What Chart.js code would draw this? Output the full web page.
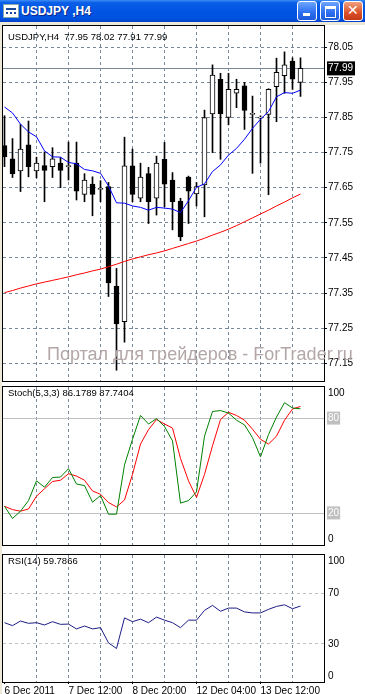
<!DOCTYPE html>
<html>
<head>
<meta charset="utf-8">
<script src="https://cdn.jsdelivr.net/npm/chart.js@4.4.0/dist/chart.umd.min.js"></script>
<style>
    body { margin: 0; width: 365px; height: 694px; overflow: hidden; position: relative; background: #fff; font-family: "Liberation Sans", Arial, sans-serif; }
    canvas { position: absolute; left: 0; }
    .barra { position: absolute; left: 0; top: 0; width: 365px; height: 22px;
        background: linear-gradient(to bottom, #3d8cf5 0%, #0a5fe8 12%, #0054e3 50%, #0052de 85%, #0040c8 100%); }
    .titulo { position: absolute; left: 21px; top: 4px; color: #fff; font: bold 12px "Liberation Sans", Arial, sans-serif; text-shadow: 1px 1px 0 #0a2a8a; }
    .icono { position: absolute; left: 3px; top: 4px; width: 14px; height: 12px; background: #fff; border: 1px solid #8aa; }
    .icono::after { content: ""; position: absolute; left: 2px; top: 3px; width: 10px; height: 6px; border-bottom: 2px dotted #1a4a9a; border-top: 2px solid #1a4a9a; box-sizing: border-box; }
    .boton { position: absolute; top: 1px; width: 18px; height: 18px; border: 1px solid #fff; border-radius: 3px;
        background: linear-gradient(to bottom, #6ea5ff, #2b6ef0 60%, #1d5ad8); }
    .boton.cerrar { background: linear-gradient(to bottom, #f0a080, #d9502a 60%, #c33a14); }
    .min::after { content: ""; position: absolute; left: 5px; top: 11px; width: 7px; height: 3px; background: #fff; }
    .max::after { content: ""; position: absolute; left: 4px; top: 4px; width: 9px; height: 8px; border: 1px solid #fff; border-top-width: 3px; box-sizing: content-box; }
    .cerrar::after { content: "\2715"; position: absolute; left: 3px; top: 0px; color: #fff; font: bold 14px "DejaVu Sans", sans-serif; }
    .franja { position: absolute; left: 0; top: 22px; width: 365px; height: 3px; background: #ece9d8; }
    .borde { position: absolute; left: 0; top: 22px; width: 2px; height: 672px; background: #ece9d8; }
    .cabecera { position: absolute; left: 8px; font-size: 9.5px; line-height: 12px; color: #000; white-space: pre; }
    .marca { position: absolute; left: 47px; top: 344px; font-size: 18px; color: #b3a7a7; white-space: nowrap; }
</style>
</head>
<body>
<div class="barra"></div>
<div class="icono"></div>
<div class="titulo">USDJPY ,H4</div>
<div class="boton min" style="left:297px"></div>
<div class="boton max" style="left:320px"></div>
<div class="boton cerrar" style="left:343px"></div>
<div class="franja"></div>
<div class="borde"></div>

<canvas id="graficoPrecio" width="365" height="375" style="top:16px"></canvas>
<canvas id="graficoStoch" width="365" height="184" style="top:374px"></canvas>
<canvas id="graficoRsi" width="365" height="156" style="top:542px"></canvas>

<div class="cabecera" style="top:31px">USDJPY,H4  77.95 78.02 77.91 77.99</div>
<div class="cabecera" style="top:387px">Stoch(5,3,3) 86.1789 87.7404</div>
<div class="cabecera" style="top:555px">RSI(14) 59.7866</div>
<div class="marca">Портал для трейдеров - ForTrader.ru</div>

<script>
// Velas H4 de USDJPY (una por cada 4 horas)
const fechas = [
    '6 Dec 04:00', '6 Dec 08:00', '6 Dec 12:00', '6 Dec 16:00', '6 Dec 20:00',
    '7 Dec 00:00', '7 Dec 04:00', '7 Dec 08:00', '7 Dec 12:00', '7 Dec 16:00', '7 Dec 20:00',
    '8 Dec 00:00', '8 Dec 04:00', '8 Dec 08:00', '8 Dec 12:00', '8 Dec 16:00', '8 Dec 20:00',
    '9 Dec 00:00', '9 Dec 04:00', '9 Dec 08:00', '9 Dec 12:00', '9 Dec 16:00', '9 Dec 20:00',
    '12 Dec 00:00', '12 Dec 04:00', '12 Dec 08:00', '12 Dec 12:00', '12 Dec 16:00', '12 Dec 20:00',
    '13 Dec 00:00', '13 Dec 04:00', '13 Dec 08:00', '13 Dec 12:00', '13 Dec 16:00', '13 Dec 20:00',
    '14 Dec 00:00', '14 Dec 04:00', '14 Dec 08:00'
];
const apertura = [77.770, 77.732, 77.698, 77.772, 77.698, 77.713, 77.710, 77.720, 77.710, 77.720,
    77.631, 77.660, 77.645, 77.653, 77.370, 77.268, 77.712, 77.620, 77.690, 77.620,
    77.731, 77.672, 77.612, 77.680, 77.632, 77.658, 77.860, 77.959, 77.850, 77.919,
    77.940, 77.859, 77.848, 77.859, 77.938, 77.969, 78.011, 77.950];
const maximo = [77.855, 77.790, 77.830, 77.840, 77.737, 77.752, 77.764, 77.736, 77.780, 77.780,
    77.690, 77.681, 77.670, 77.665, 77.420, 77.794, 77.760, 77.720, 77.708, 77.740,
    77.779, 77.693, 77.620, 77.683, 77.665, 77.871, 78.000, 77.976, 77.976, 77.959,
    77.950, 77.911, 77.855, 77.932, 78.019, 78.037, 78.020, 78.020];
const minimo = [77.710, 77.679, 77.639, 77.681, 77.678, 77.610, 77.679, 77.650, 77.672, 77.615,
    77.610, 77.570, 77.610, 77.340, 77.130, 77.210, 77.610, 77.610, 77.548, 77.572,
    77.596, 77.530, 77.499, 77.548, 77.598, 77.567, 77.750, 77.731, 77.829, 77.878,
    77.816, 77.691, 77.720, 77.630, 77.838, 77.919, 77.930, 77.910];
const cierre = [77.738, 77.689, 77.760, 77.710, 77.720, 77.699, 77.732, 77.699, 77.713, 77.640,
    77.672, 77.631, 77.648, 77.379, 77.262, 77.712, 77.631, 77.680, 77.610, 77.720,
    77.660, 77.610, 77.510, 77.640, 77.653, 77.850, 77.971, 77.860, 77.930, 77.930,
    77.870, 77.862, 77.851, 77.930, 77.979, 78.000, 77.959, 77.990];

// Medias móviles
const mediaRapida = [77.880, 77.863, 77.831, 77.809, 77.795, 77.755, 77.738, 77.737, 77.722, 77.718,
    77.702, 77.698, 77.691, 77.655, 77.607, 77.606, 77.598, 77.594, 77.586, 77.594,
    77.592, 77.589, 77.579, 77.613, 77.651, 77.661, 77.696, 77.715, 77.743, 77.762,
    77.788, 77.819, 77.845, 77.867, 77.909, 77.921, 77.919, 77.928];
const mediaLenta = [77.351, 77.357, 77.364, 77.370, 77.376, 77.381, 77.386, 77.391, 77.396, 77.402,
    77.407, 77.413, 77.418, 77.425, 77.432, 77.440, 77.447, 77.453, 77.459, 77.464,
    77.470, 77.477, 77.484, 77.491, 77.498, 77.506, 77.515, 77.523, 77.532, 77.542,
    77.553, 77.564, 77.575, 77.586, 77.598, 77.609, 77.621, 77.632];

// Estocástico (5,3,3)
const stochK = [24.5, 16.8, 21.4, 28.1, 40.6, 36.6, 42.7, 43.0, 48.3, 38.6,
    37.6, 27.1, 31.3, 19.5, 19.5, 50.7, 66.9, 82.0, 76.6, 80.0,
    75.0, 65.9, 26.5, 28.1, 33.6, 68.9, 84.5, 85.1, 83.5, 79.0,
    76.0, 67.9, 55.8, 69.9, 81.0, 90.1, 86.7, 86.2];
const stochD = [24.5, 22.4, 21.4, 22.8, 30.9, 35.6, 40.2, 41.0, 45.1, 43.6,
    41.0, 34.2, 32.1, 26.9, 24.1, 28.5, 44.7, 63.9, 73.0, 79.4,
    76.6, 74.0, 54.8, 40.6, 30.1, 44.7, 62.8, 79.4, 84.0, 82.0,
    79.0, 73.3, 66.9, 63.9, 68.9, 79.0, 86.1, 87.7];

// RSI(14)
const rsi = [46.7, 44.4, 48.0, 46.2, 46.7, 44.9, 47.5, 45.4, 45.6, 41.8,
    44.1, 41.8, 42.8, 30.8, 26.4, 50.5, 47.5, 49.5, 46.7, 51.1,
    48.7, 46.7, 42.8, 48.7, 48.7, 56.4, 60.3, 55.7, 58.2, 58.2,
    55.2, 54.4, 54.4, 57.2, 59.5, 60.8, 57.7, 59.8];

// Escalas y etiquetas
const ticksPrecio = [78.05, 77.95, 77.85, 77.75, 77.65, 77.55, 77.45, 77.35, 77.25, 77.15];
const precioActual = 77.99;
const ticksStoch = [100, 80, 20, 0];
const nivelesStoch = [80, 20];
const ticksRsi = [100, 70, 30, 0];
const nivelesRsi = [70, 30];
const lineasVerticales = [4, 8, 12, 16, 20, 24, 28, 32, 36];
const posEtiquetasX = [0, 8, 16, 24, 32];
const textoEtiquetasX = ['6 Dec 2011', '7 Dec 12:00', '8 Dec 20:00', '12 Dec 04:00', '13 Dec 12:00'];

Chart.defaults.font.family = '"Liberation Sans", Arial, sans-serif';
Chart.defaults.font.size = 10;
Chart.defaults.color = '#000';
Chart.defaults.animation = false;

const colorRejilla = '#778899';
const transparente = 'rgba(0,0,0,0)';

// Marco negro alrededor de cada panel
const marco = {
    id: 'marco',
    afterDraw(chart) {
        const { ctx, chartArea: a } = chart;
        ctx.save();
        ctx.strokeStyle = '#000';
        ctx.lineWidth = 1;
        ctx.strokeRect(a.left - 0.5, a.top - 0.5, a.right - a.left + 1, a.bottom - a.top + 1);
        ctx.restore();
    }
};

function ejeX(conEtiquetas) {
    const valores = conEtiquetas ? [0].concat(lineasVerticales) : lineasVerticales;
    return {
        type: 'linear',
        offset: false,
        min: -0.1875,
        max: 39.9375,
        afterBuildTicks: eje => { eje.ticks = valores.map(v => ({ value: v })); },
        afterFit: eje => { if (conEtiquetas) eje.height = 16; },
        grid: {
            offset: false,
            color: ctx => (ctx.tick && lineasVerticales.includes(ctx.tick.value)) ? colorRejilla : transparente,
            drawTicks: conEtiquetas,
            tickLength: 2,
            tickColor: ctx => (ctx.tick && posEtiquetasX.includes(ctx.tick.value)) ? '#000' : transparente
        },
        border: { display: false, dash: [3, 3] },
        ticks: {
            display: conEtiquetas,
            autoSkip: false,
            maxRotation: 0,
            align: 'start',
            padding: 1,
            callback: v => {
                const i = posEtiquetasX.indexOf(v);
                return i >= 0 ? textoEtiquetasX[i] : '';
            }
        }
    };
}

function ejeIndicador(valores, niveles, nivelesConFondo, discontinuo) {
    return {
        position: 'right',
        min: 0,
        max: 100,
        afterBuildTicks: eje => { eje.ticks = valores.map(v => ({ value: v })); },
        afterFit: eje => { eje.width = 41; },
        grid: {
            color: ctx => (ctx.tick && niveles.includes(ctx.tick.value)) ? '#c0c0c0' : transparente,
            drawTicks: true,
            tickLength: 3,
            tickColor: transparente
        },
        border: { display: false, dash: discontinuo ? [3, 3] : [] },
        ticks: {
            padding: 1,
            color: ctx => (nivelesConFondo && ctx.tick && niveles.includes(ctx.tick.value)) ? '#fff' : '#000',
            showLabelBackdrop: ctx => nivelesConFondo && ctx.tick && niveles.includes(ctx.tick.value),
            backdropColor: '#c0c0c0',
            backdropPadding: { top: 1, bottom: 0, left: 1, right: 1 },
            callback: v => v === 100 ? ['', '100'] : (v === 0 ? ['0', ''] : String(v))
        }
    };
}

const opcionesBase = {
    responsive: false,
    animation: false,
    events: [],
    plugins: { legend: { display: false }, tooltip: { enabled: false } }
};

// Panel de precio: velas + medias
new Chart(document.getElementById('graficoPrecio'), {
    type: 'bar',
    data: {
        datasets: [
            {
                type: 'line',
                data: mediaRapida.map((v, i) => ({ x: i, y: v })),
                borderColor: '#0000ff', borderWidth: 1, pointRadius: 0, order: -2
            },
            {
                type: 'line',
                data: mediaLenta.map((v, i) => ({ x: i, y: v })),
                borderColor: '#ff0000', borderWidth: 1, pointRadius: 0, order: -1
            },
            {
                // cuerpos
                data: apertura.map((o, i) => ({ x: i, y: [o, cierre[i]] })),
                backgroundColor: apertura.map((o, i) => cierre[i] >= o ? '#fff' : '#000'),
                borderColor: '#000', borderWidth: 1, borderSkipped: false,
                barThickness: 5, minBarLength: 1, grouped: false, order: 0
            },
            {
                // mechas
                data: minimo.map((l, i) => ({ x: i, y: [l, maximo[i]] })),
                backgroundColor: '#000', borderWidth: 0,
                barThickness: 1, grouped: false, order: 1
            }
        ]
    },
    options: {
        ...opcionesBase,
        layout: { padding: { left: 3, right: 0, top: 10, bottom: 10 } },
        scales: {
            x: ejeX(false),
            y: {
                position: 'right',
                min: 77.0993,
                max: 78.1107,
                afterBuildTicks: eje => { eje.ticks = ticksPrecio.concat([precioActual]).map(v => ({ value: v })); },
                afterFit: eje => { eje.width = 41; },
                grid: {
                    color: colorRejilla,
                    drawTicks: true,
                    tickLength: 3,
                    tickColor: ctx => (ctx.tick && ctx.tick.value === precioActual) ? transparente : '#000'
                },
                border: { display: false, dash: ctx => (ctx.tick && ctx.tick.value === precioActual) ? [] : [3, 3] },
                ticks: {
                    padding: 1,
                    color: ctx => (ctx.tick && ctx.tick.value === precioActual) ? '#fff' : '#000',
                    showLabelBackdrop: ctx => !!(ctx.tick && ctx.tick.value === precioActual),
                    backdropColor: '#000',
                    backdropPadding: { top: 1, bottom: 1, left: 1, right: 2 },
                    callback: v => v.toFixed(2)
                }
            }
        }
    },
    plugins: [marco]
});

// Estocástico
new Chart(document.getElementById('graficoStoch'), {
    type: 'line',
    data: {
        datasets: [
            { data: stochK.map((v, i) => ({ x: i, y: v })), borderColor: '#008000', borderWidth: 1, pointRadius: 0 },
            { data: stochD.map((v, i) => ({ x: i, y: v })), borderColor: '#ff0000', borderWidth: 1, pointRadius: 0 }
        ]
    },
    options: {
        ...opcionesBase,
        layout: { padding: { left: 3, right: 0, top: 10, bottom: 10 } },
        scales: { x: ejeX(false), y: ejeIndicador(ticksStoch, nivelesStoch, true, false) }
    },
    plugins: [marco]
});

// RSI
new Chart(document.getElementById('graficoRsi'), {
    type: 'line',
    data: {
        datasets: [
            { data: rsi.map((v, i) => ({ x: i, y: v })), borderColor: '#1c1c86', borderWidth: 1, pointRadius: 0 }
        ]
    },
    options: {
        ...opcionesBase,
        layout: { padding: { left: 3, right: 0, top: 10, bottom: 0 } },
        scales: { x: ejeX(true), y: ejeIndicador(ticksRsi, nivelesRsi, false, true) }
    },
    plugins: [marco]
});
</script>
</body>
</html>
